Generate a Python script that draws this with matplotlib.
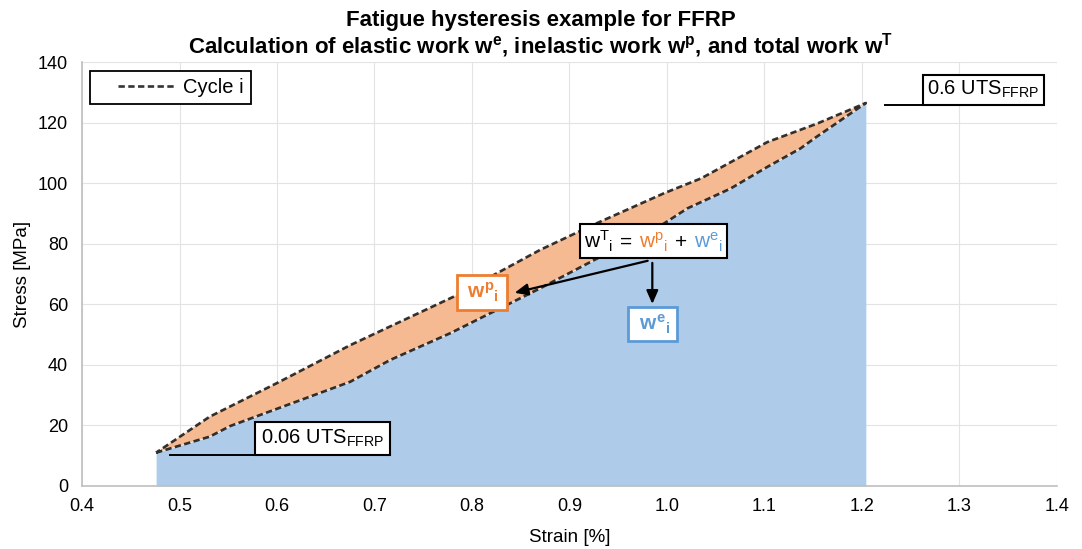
import matplotlib
matplotlib.use('Agg')
import matplotlib.pyplot as plt
import numpy as np
from matplotlib.offsetbox import TextArea, HPacker, AnnotationBbox
from matplotlib.lines import Line2D
from matplotlib.legend_handler import HandlerLine2D

plt.rcParams['font.family'] = ['Liberation Sans', 'DejaVu Sans']
plt.rcParams['mathtext.fontset'] = 'custom'
plt.rcParams['mathtext.rm'] = 'Liberation Sans'
plt.rcParams['mathtext.it'] = 'Liberation Sans:italic'
plt.rcParams['mathtext.bf'] = 'Liberation Sans:bold'

# Hysteresis loop, cycle i
upper_strain = [0.476, 0.531, 0.600, 0.675, 0.781, 0.870, 0.928, 0.997, 1.035, 1.103, 1.154, 1.204]
upper_stress = [11.0, 22.9, 34.0, 46.5, 62.5, 78.0, 86.8, 96.7, 101.6, 113.6, 119.7, 126.5]
lower_strain = [0.476, 0.531, 0.552, 0.675, 0.716, 0.778, 0.870, 0.997, 1.021, 1.065, 1.103, 1.137, 1.152, 1.204]
lower_stress = [11.0, 16.3, 19.8, 34.4, 41.6, 50.5, 65.3, 86.7, 91.7, 98.2, 105.4, 111.5, 115.0, 126.5]

x_ticks = [0.4, 0.5, 0.6, 0.7, 0.8, 0.9, 1.0, 1.1, 1.2, 1.3, 1.4]
y_ticks = [0, 20, 40, 60, 80, 100, 120, 140]

orange = '#ED7D31'
blue = '#5B9BD5'

fig = plt.figure(figsize=(10.82, 5.49), dpi=100)
ax = fig.add_axes([0.0758, 0.1148, 0.901, 0.772])

# blue area under the loading branch, orange area inside the loop
ax.fill_between(lower_strain, lower_stress, 0, color='#AECBE9', lw=0, zorder=1)
loop_x = lower_strain + upper_strain[::-1]
loop_y = lower_stress + upper_stress[::-1]
ax.fill(loop_x, loop_y, color='#F5BA92', lw=0, zorder=1)
ax.plot(loop_x, loop_y, color='#111111', lw=1.9, dashes=(2.4, 1.3), alpha=0.85,
        zorder=3, label='Cycle i')

ax.set_xlim(0.4, 1.4)
ax.set_ylim(0, 140)
ax.set_xticks(x_ticks)
ax.set_xticklabels([f'{v:.1f}' for v in x_ticks])
ax.set_yticks(y_ticks)
ax.tick_params(length=0, labelsize=13)
ax.tick_params(axis='x', pad=9)
ax.tick_params(axis='y', pad=10)
ax.grid(True, color='#e3e3e3', lw=0.8, zorder=0)
ax.set_axisbelow(True)
for s in ['top', 'right']:
    ax.spines[s].set_visible(False)
for s in ['left', 'bottom']:
    ax.spines[s].set_color('#bfbfbf')
    ax.spines[s].set_linewidth(1.2)

ax.set_xlabel('Strain [%]', fontsize=13.5, labelpad=10)
ax.set_ylabel('Stress [MPa]', fontsize=13.5, labelpad=5)

fig.suptitle('Fatigue hysteresis example for FFRP\n'
             r'Calculation of elastic work w$^{\mathbf{e}}$, inelastic work w$^{\mathbf{p}}$, '
             r'and total work w$^{\mathbf{T}}$',
             fontsize=16, fontweight='bold', y=0.982, linespacing=1.0)

leg = ax.legend(loc='upper left', fontsize=14.5, fancybox=False, edgecolor='black',
                framealpha=1, handlelength=3.9, borderaxespad=0.42,
                borderpad=0.35, handletextpad=0.35,
                handler_map={Line2D: HandlerLine2D(xpad=1.0)})
leg.get_frame().set_linewidth(1.3)

# 0.06 UTS marker
ax.plot([0.49, 0.577], [10.2, 10.2], color='black', lw=1.4, zorder=4)
ax.annotate(r'0.06 UTS$_{\mathrm{FFRP}}$', xy=(0.577, 10.2), xytext=(6, 6),
            textcoords='offset pixels', fontsize=14.5, ha='left', va='bottom',
            bbox=dict(boxstyle='square,pad=0.3', fc='white', ec='black', lw=1.5), zorder=5)

# 0.6 UTS marker
ax.plot([1.224, 1.262], [125.7, 125.7], color='black', lw=1.4, zorder=4)
ax.annotate(r'0.6 UTS$_{\mathrm{FFRP}}$', xy=(1.262, 125.7), xytext=(5, 5),
            textcoords='offset pixels', fontsize=14.5, ha='left', va='bottom',
            bbox=dict(boxstyle='square,pad=0.22', fc='white', ec='black', lw=1.5), zorder=5)

# equation box with coloured parts
parts = [
    (r'w$^{\mathrm{T}}$$_{\mathrm{i}}$', 'black'),
    ('=', 'black'),
    (r'w$^{\mathrm{p}}$$_{\mathrm{i}}$', orange),
    ('+', 'black'),
    (r'w$^{\mathrm{e}}$$_{\mathrm{i}}$', blue),
]
areas = [TextArea(t, textprops=dict(color=c, fontsize=15)) for t, c in parts]
pack = HPacker(children=areas, align='baseline', pad=0, sep=5)
ab = AnnotationBbox(pack, (0.986, 80.9), frameon=True, pad=0.3,
                    bboxprops=dict(boxstyle='square,pad=0.3', fc='white', ec='black', lw=1.5),
                    zorder=6)
ax.add_artist(ab)

ax.annotate('', xy=(0.841, 63.6), xytext=(0.983, 74.6),
            arrowprops=dict(arrowstyle='-|>,head_length=0.8,head_width=0.35',
                            color='black', lw=1.6), zorder=6)
ax.annotate('', xy=(0.985, 59.2), xytext=(0.985, 74.6),
            arrowprops=dict(arrowstyle='-|>,head_length=0.8,head_width=0.35',
                            color='black', lw=1.6), zorder=6)

ax.text(0.810, 63.8, r' $\mathbf{w^{p}}$$_{\mathbf{i}}$ ', fontsize=15, color=orange,
        ha='center', va='center',
        bbox=dict(boxstyle='square,pad=0.28', fc='white', ec=orange, lw=2), zorder=7)
ax.text(0.9855, 53.5, r' $\mathbf{w^{e}}$$_{\mathbf{i}}$ ', fontsize=15, color=blue,
        ha='center', va='center',
        bbox=dict(boxstyle='square,pad=0.28', fc='white', ec=blue, lw=2), zorder=7)

fig.savefig('out.png', dpi=100)
